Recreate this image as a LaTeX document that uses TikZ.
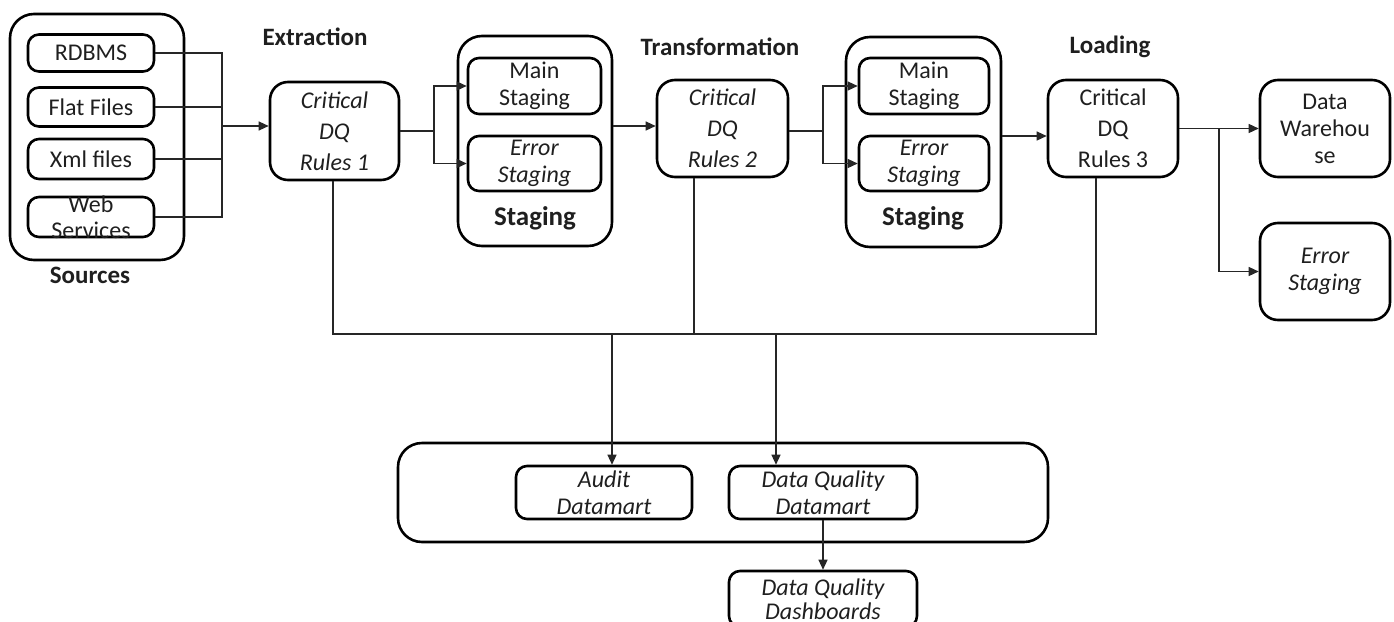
\documentclass[tikz,border=0pt]{standalone}
\usepackage{fontspec}
\setmainfont{Carlito}
\usetikzlibrary{arrows.meta}
\begin{document}
\begin{tikzpicture}[x=1pt,y=-1pt,
  every node/.style={text=black!88},
  base/.style={font=\fontsize{24}{27}\selectfont},
  ibase/.style={font=\fontsize{24}{27}\selectfont\itshape},
  rbox/.style={base,draw=black,line width=2.6pt,rounded corners=11pt,align=center,inner sep=0pt},
  cbox/.style={rbox,rounded corners=18pt},
  outer/.style={draw=black,line width=2.6pt,rounded corners=24pt,inner sep=0pt},
  ttl/.style={font=\fontsize{25}{28}\selectfont\bfseries},
  conn/.style={line width=1.3pt,draw=black!85},
  arr/.style={conn,-{Triangle[length=10pt,width=9pt]}}
]
\useasboundingbox (0,0) rectangle (1394,621);
\clip (0,0) rectangle (1394,621);
% Sources
\node[outer,minimum width=174pt,minimum height=246pt] (src) at (97,137) {};
\node[rbox,minimum width=126pt,minimum height=37pt] (rdbms) at (91,53) {RDBMS};
\node[rbox,minimum width=126pt,minimum height=39pt] (flat) at (91,107) {Flat Files};
\node[rbox,minimum width=126pt,minimum height=40pt] (xml) at (91,159) {Xml files};
\node[rbox,minimum width=126pt,minimum height=40pt,label={[base,align=center,text=black!88]center:Web\\[-1pt]Services}] (web) at (91,217) {};
\node[ttl] (srcl) at (90,275) {Sources};
% titles
\node[ttl] (ext) at (315,37) {Extraction};
\node[ttl] (trn) at (720,47) {Transformation};
\node[ttl] (lod) at (1110,47) {Loading};
% CDQ boxes
\node[cbox,minimum width=129pt,minimum height=98pt,font=\fontsize{24}{31}\selectfont\itshape] (cdq1) at (334.5,131) {Critical\\DQ\\Rules 1};
\node[cbox,minimum width=131pt,minimum height=97pt,font=\fontsize{24}{31}\selectfont\itshape] (cdq2) at (722.5,128.5) {Critical\\DQ\\Rules 2};
\node[cbox,minimum width=130pt,minimum height=97pt,font=\fontsize{24}{31}\selectfont] (cdq3) at (1113,128.5) {Critical\\DQ\\Rules 3};
% Staging 1
\node[outer,minimum width=154pt,minimum height=210pt] (stg1) at (535,141) {};
\node[rbox,minimum width=133pt,minimum height=56pt] (ms1) at (534.5,86) {Main\\Staging};
\node[rbox,minimum width=133pt,minimum height=55pt,ibase] (es1) at (534.5,163.5) {Error\\Staging};
\node[font=\fontsize{27}{30}\selectfont\bfseries] (stl1) at (535,218) {Staging};
% Staging 2
\node[outer,minimum width=155pt,minimum height=210pt] (stg2) at (923.5,142) {};
\node[rbox,minimum width=130pt,minimum height=56pt] (ms2) at (924,86) {Main\\Staging};
\node[rbox,minimum width=130pt,minimum height=55pt,ibase] (es2) at (924,163.5) {Error\\Staging};
\node[font=\fontsize{27}{30}\selectfont\bfseries] (stl2) at (923,218) {Staging};
% targets
\node[cbox,minimum width=130pt,minimum height=97pt] (dw) at (1325,128.5) {Data\\Warehou\\se};
\node[cbox,minimum width=130pt,minimum height=97pt,ibase] (es3) at (1325,271.5) {Error\\Staging};
% datamarts
\node[outer,minimum width=650pt,minimum height=99pt] (dm) at (723,492.5) {};
\node[rbox,minimum width=176pt,minimum height=53pt,ibase] (audit) at (604,492.5) {Audit\\Datamart};
\node[rbox,minimum width=188pt,minimum height=53pt,ibase] (dqd) at (823,492.5) {Data Quality\\Datamart};
\node[rbox,minimum width=188pt,minimum height=56pt,font=\fontsize{24}{24}\selectfont\itshape] (dash) at (823,599) {Data Quality\\Dashboards};
% connectors: sources
\coordinate (j1) at (222,126);
\draw[conn] (rdbms.east) -- (rdbms.east -| j1) -- (web.east -| j1) -- (web.east);
\draw[conn] (flat.east) -- (flat.east -| j1);
\draw[conn] (xml.east) -- (xml.east -| j1);
\draw[arr] (j1) -- (cdq1.west |- j1);
% CDQ1 -> staging 1
\coordinate (j2) at (434,131);
\draw[conn] (cdq1.east |- j2) -- (j2);
\draw[arr] (j2) |- (ms1.west);
\draw[arr] (j2) |- (es1.west);
\coordinate (a2) at (635,126);
\draw[arr] (stg1.east |- a2) -- (cdq2.west |- a2);
% CDQ2 -> staging 2
\coordinate (j3) at (823,131);
\draw[conn] (cdq2.east |- j3) -- (j3);
\draw[arr] (j3) |- (ms2.west);
\draw[arr] (j3) |- (es2.west);
\coordinate (a3) at (1020,136);
\draw[arr] (stg2.east |- a3) -- (cdq3.west |- a3);
% CDQ3 -> targets
\coordinate (j4) at (1219,128.5);
\draw[arr] (cdq3.east |- dw) -- (dw.west);
\draw[arr] (j4) |- (es3.west);
% bottom bus
\coordinate (h) at (333,334);
\coordinate (v2) at (694,334);
\coordinate (v3) at (1096,334);
\draw[conn] (cdq1.south -| h) -- (h) -- (v3) -- (cdq3.south -| v3);
\draw[conn] (cdq2.south -| v2) -- (v2);
\coordinate (d1) at (612,334);
\coordinate (d2) at (776,334);
\draw[arr] (d1) -- (d1 |- audit.north);
\draw[arr] (d2) -- (d2 |- dqd.north);
\draw[arr] (dqd.south) -- (dash.north);
\end{tikzpicture}
\end{document}
